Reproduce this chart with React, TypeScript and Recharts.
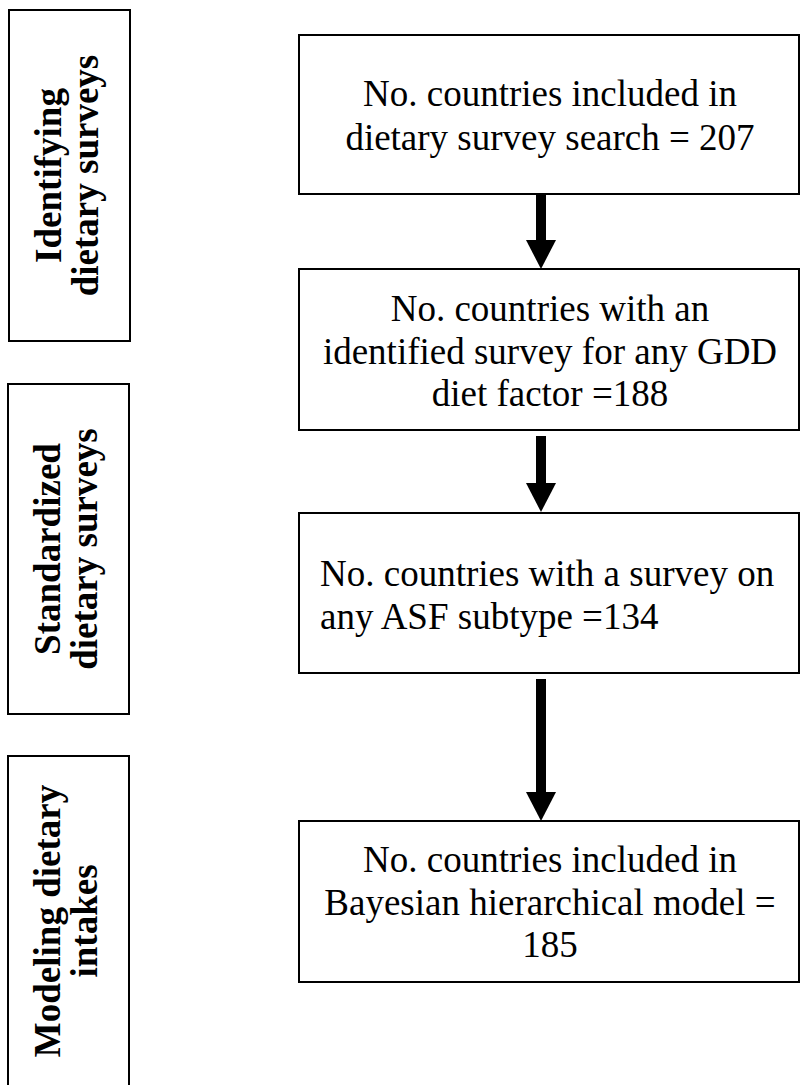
import React from 'react';
import { ComposedChart, XAxis, YAxis, ReferenceArea, Line } from 'recharts';

// ---------- content ----------
const stageNames: string[][] = [
  ['Identifying', 'dietary surveys'],
  ['Standardized', 'dietary surveys'],
  ['Modeling dietary', 'intakes'],
];

const countryCounts: number[] = [207, 188, 134, 185];

const stepLines: string[][] = [
  ['No. countries included in', `dietary survey search = ${countryCounts[0]}`],
  ['No. countries with an', 'identified survey for any GDD', `diet factor =${countryCounts[1]}`],
  ['No. countries with a survey on', `any ASF subtype =${countryCounts[2]}`],
  ['No. countries included in', 'Bayesian hierarchical model =', `${countryCounts[3]}`],
];

// ---------- layout (page coordinates) ----------
const stageBoxes = [
  { x1: 9, x2: 130, y1: 10, y2: 341 },
  { x1: 8, x2: 129, y1: 384, y2: 714 },
  { x1: 8, x2: 129, y1: 756, y2: 1086 },
];

const stepBoxes = [
  { x1: 299, x2: 799, y1: 35, y2: 194, first: 71, gap: 44, align: 'middle' },
  { x1: 299, x2: 799, y1: 269, y2: 430, first: 52, gap: 42.5, align: 'middle' },
  { x1: 299, x2: 799, y1: 513, y2: 673, first: 73, gap: 42.5, align: 'start' },
  { x1: 299, x2: 799, y1: 821, y2: 982, first: 51, gap: 42.5, align: 'middle' },
];

const arrowShafts = [
  [{ x: 541, y: 195 }, { x: 541, y: 240 }],
  [{ x: 541, y: 436 }, { x: 541, y: 483 }],
  [{ x: 541, y: 679 }, { x: 541, y: 792 }],
];

const W = 801;
const H = 1085;
const FONT = "'Liberation Serif', 'Times New Roman', Times, serif";

const StageShape = (lines: string[]) => (props: any) => {
  const { x, y, width, height } = props;
  const cy = y + height / 2;
  const b1 = x + 52;
  const b2 = x + 89;
  return (
    <g>
      <rect x={x} y={y} width={width} height={height} fill="#fff" stroke="#000" strokeWidth={2} />
      {[b1, b2].map((bx, i) => (
        <text
          key={i}
          x={bx}
          y={cy}
          transform={`rotate(-90 ${bx} ${cy})`}
          textAnchor="middle"
          fontFamily={FONT}
          fontWeight="bold"
          fontSize={37}
          fill="#000"
        >
          {lines[i]}
        </text>
      ))}
    </g>
  );
};

const StepShape = (lines: string[], box: any) => (props: any) => {
  const { x, y, width, height } = props;
  const tx = box.align === 'start' ? x + 21 : x + width / 2 + 1;
  return (
    <g>
      <rect x={x} y={y} width={width} height={height} fill="#fff" stroke="#000" strokeWidth={2} />
      {lines.map((t, i) => (
        <text
          key={i}
          x={tx}
          y={y + box.first + i * box.gap}
          textAnchor={box.align}
          fontFamily={FONT}
          fontSize={37}
          fill="#000"
        >
          {t}
        </text>
      ))}
    </g>
  );
};

const ArrowHead = (p: any) => {
  if (p.index !== 1) return <g key={`h-${p.index}`} />;
  const { cx, cy } = p;
  return (
    <path
      key={`h-${p.index}`}
      d={`M${cx - 15},${cy} L${cx + 15},${cy} L${cx},${cy + 29} Z`}
      fill="#000"
      stroke="none"
    />
  );
};

export default function App() {
  return (
    <div style={{ position: 'absolute', left: 0, top: 0, width: W, height: H, background: '#fff' }}>
      <ComposedChart width={W} height={H} margin={{ top: 0, right: 0, bottom: 0, left: 0 }}>
        <XAxis type="number" dataKey="x" domain={[0, W]} hide allowDataOverflow />
        <YAxis type="number" dataKey="y" domain={[0, H]} reversed hide allowDataOverflow />
        {stageBoxes.map((b, i) => (
          <ReferenceArea
            key={`s-${i}`}
            x1={b.x1}
            x2={b.x2}
            y1={b.y1}
            y2={b.y2}
            ifOverflow="visible"
            shape={StageShape(stageNames[i])}
          />
        ))}
        {stepBoxes.map((b, i) => (
          <ReferenceArea
            key={`b-${i}`}
            x1={b.x1}
            x2={b.x2}
            y1={b.y1}
            y2={b.y2}
            ifOverflow="visible"
            shape={StepShape(stepLines[i], b)}
          />
        ))}
        {arrowShafts.map((d, i) => (
          <Line
            key={`a-${i}`}
            data={d}
            dataKey="y"
            type="linear"
            stroke="#000"
            strokeWidth={10}
            dot={ArrowHead}
            activeDot={false}
            isAnimationActive={false}
            legendType="none"
          />
        ))}
      </ComposedChart>
    </div>
  );
}
